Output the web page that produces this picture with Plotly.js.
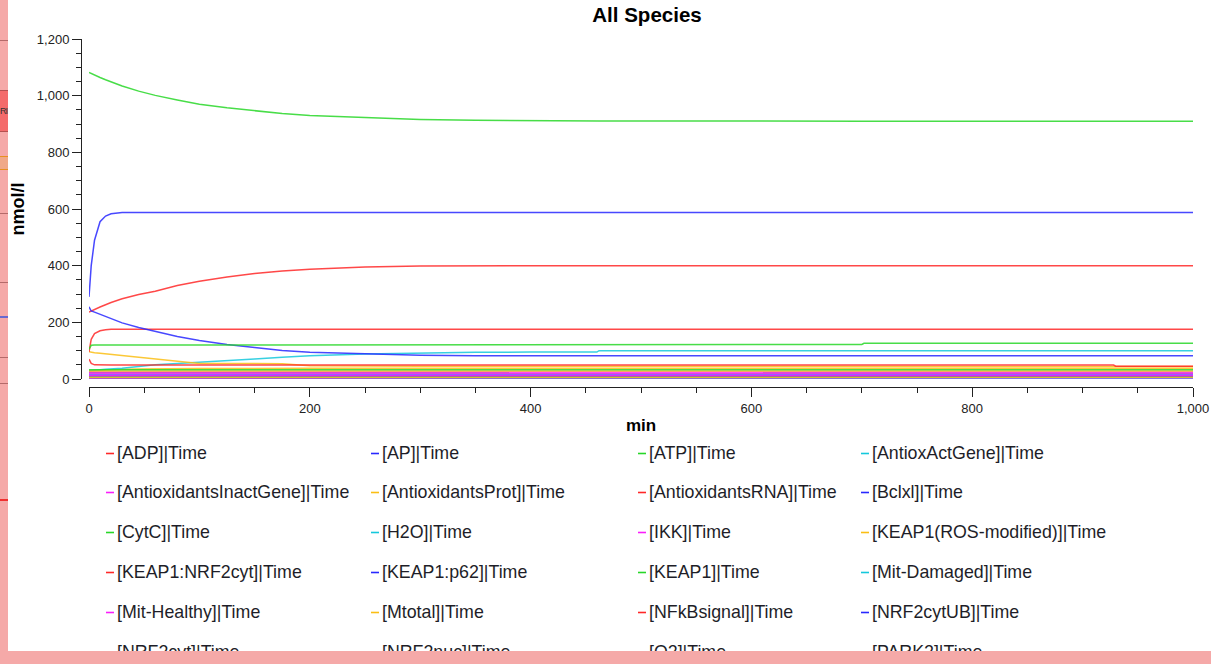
<!DOCTYPE html>
<html>
<head>
<meta charset="utf-8">
<script src="https://cdn.plot.ly/plotly-3.0.1.min.js"></script>
<style>
  html, body { margin: 0; padding: 0; background: #fff; }
  #wrap { position: relative; width: 1211px; height: 664px; overflow: hidden; background: #fff; }
  #chart { position: absolute; left: 0; top: 0; width: 1211px; height: 664px; }
  .ov { position: absolute; z-index: 10; }
</style>
</head>
<body>
<div id="wrap">
  <div id="chart"></div>
  <!-- surrounding window frame (pink) -->
  <div class="ov" style="left:0;top:0;width:8px;height:664px;background:#F5A9A8;"></div>
  <div class="ov" style="left:0;top:40px;width:8px;height:1px;background:#B46A6A;"></div>
  <div class="ov" style="left:0;top:90px;width:8px;height:40px;background:#F46B6B;border-top:1px solid #B45050;border-bottom:1px solid #B45050;">
    <span style="position:absolute;left:0;top:15px;font:9px 'Liberation Sans';letter-spacing:-1px;color:#333;white-space:nowrap;">RI</span>
  </div>
  <div class="ov" style="left:0;top:156px;width:8px;height:12px;background:#F0A888;border-top:1px solid #E89020;border-bottom:1px solid #E89020;"></div>
  <div class="ov" style="left:0;top:213px;width:8px;height:1px;background:#B46A6A;"></div>
  <div class="ov" style="left:0;top:282px;width:8px;height:1px;background:#B46A6A;"></div>
  <div class="ov" style="left:0;top:316px;width:8px;height:2px;background:#6868D0;"></div>
  <div class="ov" style="left:0;top:357px;width:8px;height:1px;background:#B46A6A;"></div>
  <div class="ov" style="left:0;top:383px;width:8px;height:1px;background:#B46A6A;"></div>
  <div class="ov" style="left:0;top:499px;width:8px;height:2px;background:#F03030;"></div>
  <div class="ov" style="left:0;top:651px;width:1211px;height:13px;background:#F5A9A8;"></div>
</div>
<script>
// ---- data ----
const time = [0, 2, 5, 10, 15, 20, 30, 45, 60, 80, 100, 125, 150, 175, 200, 250, 300, 350, 400, 460, 462, 700, 702, 928, 930, 1000];

const seriesNames = [
  "[ADP]|Time", "[AP]|Time", "[ATP]|Time", "[AntioxActGene]|Time",
  "[AntioxidantsInactGene]|Time", "[AntioxidantsProt]|Time", "[AntioxidantsRNA]|Time", "[Bclxl]|Time",
  "[CytC]|Time", "[H2O]|Time", "[IKK]|Time", "[KEAP1(ROS-modified)]|Time",
  "[KEAP1:NRF2cyt]|Time", "[KEAP1:p62]|Time", "[KEAP1]|Time", "[Mit-Damaged]|Time",
  "[Mit-Healthy]|Time", "[Mtotal]|Time", "[NFkBsignal]|Time", "[NRF2cytUB]|Time",
  "[NRF2cyt]|Time", "[NRF2nuc]|Time", "[O2]|Time", "[PARK2]|Time"
];

const ADP = [236,240,245,254,262,270,283,298,310,330,345,360,372,381,387,395,399,400,400,400,400,400,400,400,400,400];
const AP = [290,400,490,555,575,583,588,588,588,588,588,588,588,588,588,588,588,588,588,588,588,588,588,588,588,588];
const ATP = [1082,1078,1072,1064,1056,1048,1034,1016,1001,985,970,957,946,937,930,922,916,913,912,911,911,910,910,910,910,910];
const AntioxActGene = [4,3,3,3,3,3,3,3,3,3,3,3,3,3,3,3,3,3,3,3,3,3,3,3,3,3];
const AntioxidantsInactGene = [3,2,2,2,2,2,2,2,2,2,2,2,2,2,2,2,2,2,2,2,2,2,2,2,2,2];
const AntioxidantsProt = [28,29,30,31,32,33,34,35,36,37,37,37,38,38,38,38,38,38,38,38,38,38,38,38,38,38];
const AntioxidantsRNA = [5,5,5,6,6,6,6,6,6,6,6,6,6,6,6,6,6,6,6,6,6,6,6,6,6,6];
const Bclxl = [14,14,14,14,14,14,14,14,14,14,14,14,14,14,14,14,14,14,14,14,14,14,14,14,14,14];
const CytC = [22,22,22,22,22,22,22,22,22,22,22,22,22,22,21,20,20,20,20,20,20,20,20,20,20,20];
const H2O = [30,31,32,33,34,35,38,44,50,55,59,64,71,77,82,88,92,94,95,95,100,100,100,100,100,100];
const IKK = [25,25,25,25,25,25,25,25,25,25,25,25,25,25,25,25,25,25,25,25,25,25,25,25,25,25];
const KEAP1ROS = [96,94,93,91,89,87,83,77,71,62,55,55,55,54,47,45,45,45,45,45,45,45,45,44,44,44];
const KEAP1NRF2cyt = [96,140,160,170,174,176,176,176,176,176,176,176,176,176,176,176,176,176,176,176,176,176,176,176,176,176];
const KEAP1p62 = [255,240,236,228,220,212,198,182,168,150,136,122,111,101,94,88,84,82,82,82,82,82,82,82,82,82];
const KEAP1 = [105,119,120,120,120,120,120,120,120,120,122,122,122,122,122,122,122,122,122,122,122,122,126,126,126,126];
const MitDamaged = [8,8,8,8,8,8,8,8,8,8,8,8,8,8,8,8,8,8,8,8,8,8,8,8,8,8];
const MitHealthy = [20,20,20,20,20,20,20,20,20,20,20,20,20,20,20,20,20,20,20,20,20,20,20,20,20,20];
const Mtotal = [28,28,28,28,28,28,28,28,28,28,28,28,28,28,28,28,28,28,28,28,28,28,28,28,28,28];
const NFkBsignal = [70,55,50,49,49,49,49,49,49,49,49,49,49,49,49,49,49,49,49,49,49,49,49,49,45,45];
const NRF2cytUB = [10,10,10,10,10,10,10,10,10,10,10,10,10,10,10,10,10,10,10,10,10,10,10,10,10,10];
const NRF2cyt = [33,33,33,33,33,33,33,33,33,33,33,33,33,33,33,33,33,33,33,33,33,33,33,33,33,33];
const NRF2nuc = [5,5,4,4,4,4,4,4,4,4,4,4,4,4,4,4,4,4,4,4,4,4,4,4,4,4];
const O2 = [12,12,12,12,12,12,12,12,12,12,12,12,12,12,12,12,12,12,12,12,12,12,12,12,12,12];
const PARK2 = [6,6,6,6,6,6,6,6,6,6,6,6,6,6,6,6,6,6,6,6,6,6,6,6,6,6];

const seriesValues = [
  ADP, AP, ATP, AntioxActGene,
  AntioxidantsInactGene, AntioxidantsProt, AntioxidantsRNA, Bclxl,
  CytC, H2O, IKK, KEAP1ROS,
  KEAP1NRF2cyt, KEAP1p62, KEAP1, MitDamaged,
  MitHealthy, Mtotal, NFkBsignal, NRF2cytUB,
  NRF2cyt, NRF2nuc, O2, PARK2
];

const colorCycle = ["rgb(255,40,40)", "rgb(40,40,255)", "rgb(40,215,40)", "rgb(20,200,220)", "rgb(250,30,250)", "rgb(250,190,20)"];

// ---- geometry (pixels) ----
const W = 1211, H = 664;
const mL = 81, mR = 18, mT = 39, mB = 277;
const pw = W - mL - mR, ph = H - mT - mB;
const px2paperX = px => (px - mL) / pw;
const px2paperY = py => (H - mB - py) / ph;

const traces = seriesNames.map((name, i) => ({
  x: time,
  y: seriesValues[i],
  name: name,
  type: "scatter",
  mode: "lines",
  line: { color: colorCycle[i % 6], width: 1.5, shape: "linear" },
  opacity: 0.85,
  showlegend: false,
  hoverinfo: "skip"
}));

// custom legend laid out as a 4-column grid
const colDash = [106, 371, 638, 861];
const rowY0 = 452.5, rowStep = 39.8;
const annotations = [];
const shapes = [];
seriesNames.forEach((name, i) => {
  const r = Math.floor(i / 4), c = i % 4;
  const y = rowY0 + r * rowStep;
  const yl = Math.round(y) + 0.5;
  shapes.push({
    type: "line", xref: "paper", yref: "paper",
    x0: px2paperX(colDash[c]), x1: px2paperX(colDash[c] + 8),
    y0: px2paperY(yl), y1: px2paperY(yl),
    line: { color: colorCycle[i % 6], width: 1.6 }
  });
  annotations.push({
    text: name, xref: "paper", yref: "paper",
    x: px2paperX(colDash[c] + 9), y: px2paperY(y),
    xanchor: "left", yanchor: "middle", showarrow: false,
    font: { family: "Liberation Sans", size: 17.8, color: "#1e1e28" }
  });
});

const tickFont = { family: "Liberation Sans", size: 13, color: "#222" };

const layout = {
  width: W, height: H,
  margin: { l: mL, r: mR, t: mT, b: mB, pad: 0 },
  paper_bgcolor: "#fff", plot_bgcolor: "#fff",
  showlegend: false,
  title: {
    text: "<b>All Species</b>",
    font: { family: "Liberation Sans", size: 20.5, color: "#000" },
    x: 647 / W, xanchor: "center", xref: "container",
    y: 1 - 15 / H, yanchor: "middle", yref: "container"
  },
  xaxis: {
    domain: [8 / pw, 1], range: [0, 1000], anchor: "free", position: 0,
    showline: true, linecolor: "#222", linewidth: 1,
    ticks: "outside", ticklen: 9, tickwidth: 1, tickcolor: "#222",
    tick0: 0, dtick: 200, tickformat: ",d",
    minor: { ticks: "outside", dtick: 50, ticklen: 5, tickwidth: 1, tickcolor: "#222", showgrid: false },
    showgrid: false, zeroline: false, tickfont: tickFont,
    title: { text: "<b>min</b>", font: { family: "Liberation Sans", size: 17, color: "#000" }, standoff: 4 }
  },
  yaxis: {
    domain: [8 / ph, 1], range: [0, 1200], anchor: "free", position: 0,
    showline: true, linecolor: "#222", linewidth: 1,
    ticks: "outside", ticklen: 9, tickwidth: 1, tickcolor: "#222",
    tick0: 0, dtick: 200, tickformat: ",d",
    minor: { ticks: "outside", dtick: 50, ticklen: 5, tickwidth: 1, tickcolor: "#222", showgrid: false },
    showgrid: false, zeroline: false, tickfont: tickFont,
    title: { text: "<b>nmol/l</b>", font: { family: "Liberation Sans", size: 18, color: "#000" }, standoff: 6 }
  },
  annotations: annotations,
  shapes: shapes
};

Plotly.newPlot("chart", traces, layout, { staticPlot: true, displayModeBar: false });
</script>
</body>
</html>
